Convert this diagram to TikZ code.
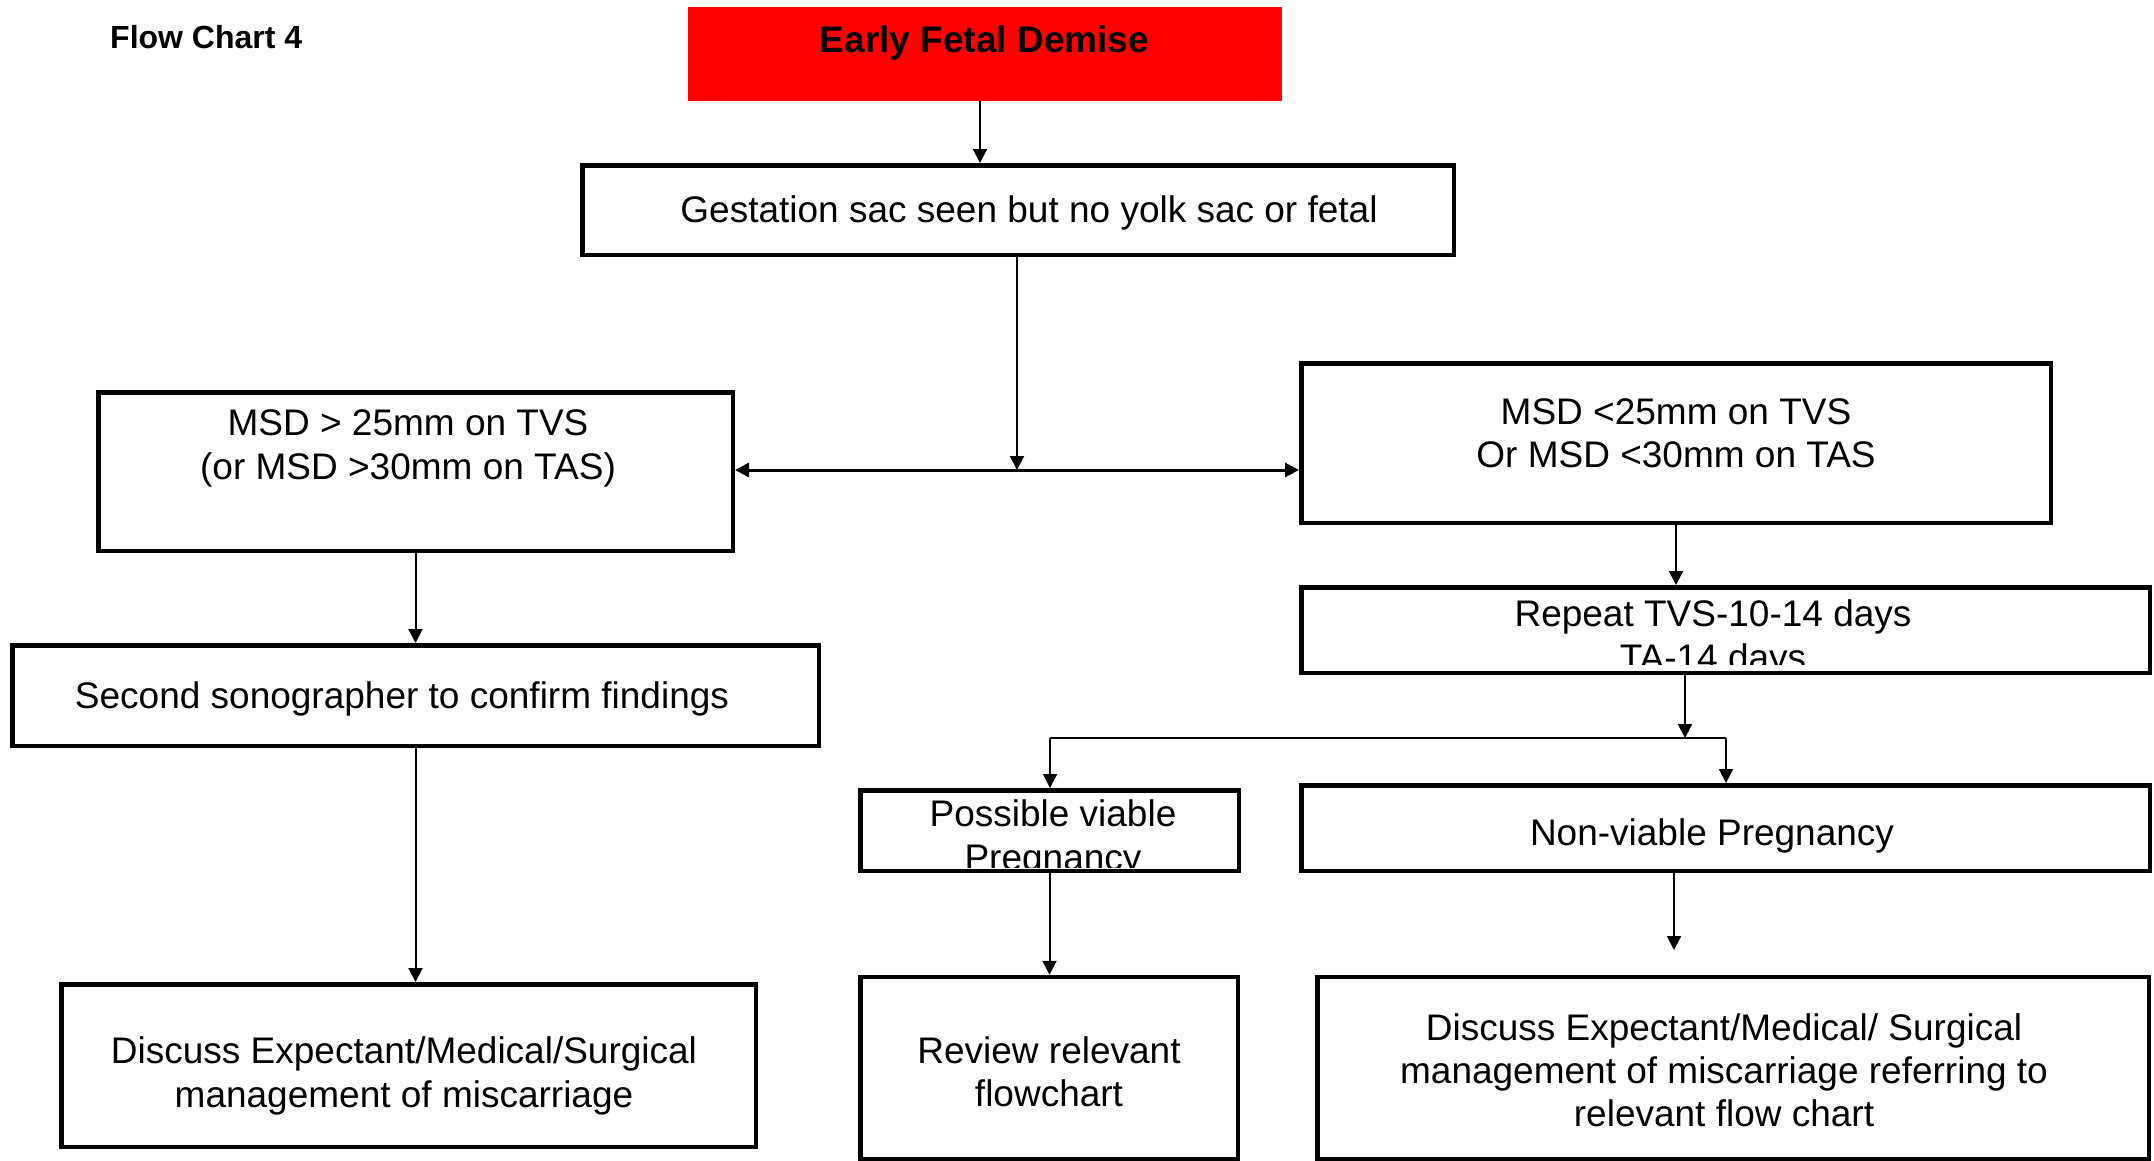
\documentclass[tikz,border=0pt]{standalone}
\usepackage{fontspec}
\setmainfont{Liberation Sans}
\usetikzlibrary{arrows.meta}
\tikzset{
  bx/.style={draw, line width=4.5pt, inner sep=0pt},
  tx/.style={font=\fontsize{37}{44}\selectfont, inner sep=0pt, anchor=base},
  arr/.style={line width=2pt, -{Triangle[length=14pt,width=14pt]}},
  ln/.style={line width=2pt},
}
\begin{document}
\begin{tikzpicture}[x=1pt,y=-1pt]
\fill[white] (0,0) rectangle (2154,1160);
\useasboundingbox (0,0) rectangle (2154,1160);
% boxes
\node[fill={rgb,255:red,255;green,0;blue,0}, minimum width=594pt, minimum height=94pt, inner sep=0pt] (red) at (985,54) {};
\node[bx, minimum width=871.5pt, minimum height=89.5pt] (gest) at (1018,210) {};
\node[bx, minimum width=634.5pt, minimum height=158.5pt] (msd1) at (415.5,471.5) {};
\node[bx, minimum width=749.5pt, minimum height=159.5pt] (msd2) at (1676,443) {};
\node[bx, minimum width=806.5pt, minimum height=100.5pt] (second) at (415.5,695.5) {};
\node[bx, minimum width=848.5pt, minimum height=85.5pt] (repeat) at (1725.5,630) {};
\node[bx, minimum width=378.5pt, minimum height=80.5pt] (possible) at (1049.5,830.5) {};
\node[bx, minimum width=848.5pt, minimum height=85.5pt] (nonv) at (1725.5,828) {};
\node[bx, minimum width=694.5pt, minimum height=162.5pt] (discL) at (408.5,1065.5) {};
\node[bx, minimum width=377.5pt, minimum height=182pt] (review) at (1049,1068) {};
\node[bx, minimum width=831.5pt, minimum height=182pt] (discR) at (1733,1068) {};
% texts
\node[font=\fontsize{32}{38}\selectfont\bfseries, inner sep=0pt, anchor=base west] (title) at (110,48) {Flow Chart 4};
\node[tx, font=\fontsize{37}{44}\selectfont\bfseries] (tred) at (984.5,52) {Early Fetal Demise};
\node[tx] (tgest) at (1029,222) {Gestation sac seen but no yolk sac or fetal};
\node[tx] (tm1a) at (408,435) {MSD > 25mm on TVS};
\node[tx] (tm1b) at (408,479) {(or MSD >30mm on TAS)};
\node[tx] (tm2a) at (1676,424) {MSD <25mm on TVS};
\node[tx] (tm2b) at (1676,467) {Or MSD <30mm on TAS};
\node[tx] (tsec) at (402,708) {Second sonographer to confirm findings};
\node[tx] (trep1) at (1713,626) {Repeat TVS-10-14 days};
\begin{scope}
\clip (0,0) rectangle (2154,664);
\node[tx] (trep2) at (1713,670) {TA-14 days};
\end{scope}
\node[tx] (tpos1) at (1053,826) {Possible viable};
\begin{scope}
\clip (0,0) rectangle (2154,867);
\node[tx] (tpos2) at (1053,870) {Pregnancy};
\end{scope}
\node[tx] (tnon) at (1712,845) {Non-viable Pregnancy};
\node[tx] (tdl1) at (404,1063) {Discuss Expectant/Medical/Surgical};
\node[tx] (tdl2) at (404,1107) {management of miscarriage};
\node[tx] (trv1) at (1049,1063) {Review relevant};
\node[tx] (trv2) at (1049,1106) {flowchart};
\node[tx] (tdr1) at (1724,1040) {Discuss Expectant/Medical/ Surgical};
\node[tx] (tdr2) at (1724,1083) {management of miscarriage referring to};
\node[tx] (tdr3) at (1724,1126) {relevant flow chart};
% coordinates
\coordinate (j1) at (1017,470);
\coordinate (j2) at (1685,738);
\coordinate (j2l) at (1050,738);
\coordinate (j2r) at (1726,738);
\coordinate (e1) at (1674,950);
% connectors
\draw[arr] ([xshift=-5pt]red.south) -- ([xshift=-5pt]red.south |- gest.north);
\draw[arr] (gest.south -| j1) -- (j1);
\draw[line width=3pt, {Triangle[length=14pt,width=14pt]}-{Triangle[length=14pt,width=14pt]}] (msd1.east |- j1) -- (msd2.west |- j1);
\draw[arr] (msd1.south) -- (msd1.south |- second.north);
\draw[arr] (second.south) -- (second.south |- discL.north);
\draw[arr] (msd2.south) -- (msd2.south |- repeat.north);
\draw[arr] (repeat.south -| j2) -- (j2);
\draw[ln] (j2l) -- (j2r);
\draw[arr] (j2l) -- (j2l |- possible.north);
\draw[arr] (j2r) -- (j2r |- nonv.north);
\draw[arr] (possible.south) -- (possible.south |- review.north);
\draw[arr] (nonv.south -| e1) -- (e1);
\end{tikzpicture}
\end{document}
